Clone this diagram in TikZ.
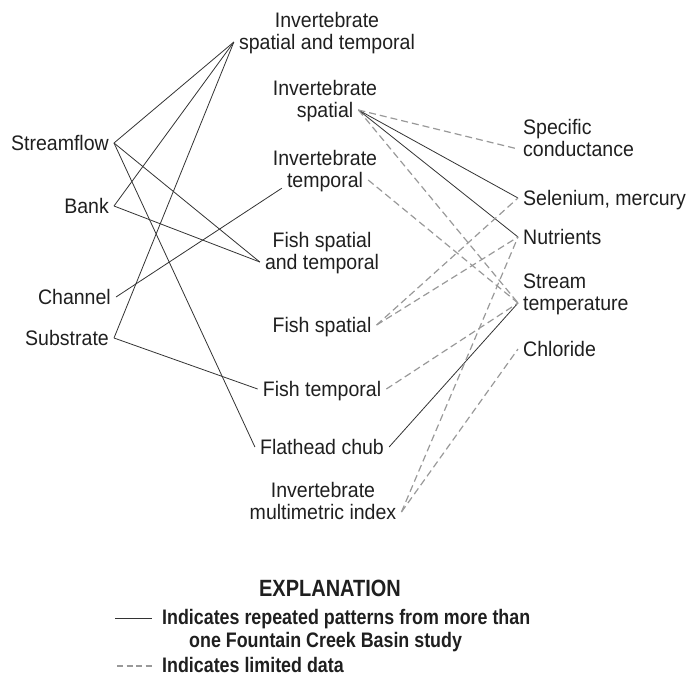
\documentclass[tikz,border=0pt]{standalone}
\usepackage{fontspec}
\setmainfont{Liberation Sans}[FakeStretch=0.93]
\newfontfamily\legfont{Liberation Sans}[FakeStretch=0.85]
\begin{document}
\begin{tikzpicture}[x=1pt,y=-1pt,
  lbl/.style={font=\fontsize{21}{22}\selectfont, text=black!88, inner xsep=5pt, inner ysep=0pt, text height=15pt, text depth=1pt},
  legtxt/.style={font=\legfont\bfseries\fontsize{21}{22}\selectfont, text=black!88, inner sep=0pt, anchor=west, text height=14pt, text depth=1pt},
  solidc/.style={draw=black!80, line width=0.8pt},
  dashc/.style={draw=black!40, line width=1.2pt, dash pattern=on 7pt off 4pt},
]
\useasboundingbox (0,0) rectangle (687,678);

% left column
\node[lbl,anchor=east] (sf) at (114,143) {Streamflow};
\node[lbl,anchor=east] (bk) at (114,206) {Bank};
\node[lbl,anchor=east] (ch) at (116,297) {Channel};
\node[lbl,anchor=east] (su) at (114,338) {Substrate};

% middle column
\node[lbl] (ist1) at (327,20) {Invertebrate};
\node[lbl] (ist) at (327,42) {spatial and temporal};
\node[lbl] (is1) at (325,88) {Invertebrate};
\node[lbl] (is) at (325,110) {spatial};
\node[lbl] (it1) at (325,158) {Invertebrate};
\node[lbl] (it) at (325,180) {temporal};
\node[lbl] (fst1) at (322,240) {Fish spatial};
\node[lbl] (fst) at (322,262) {and temporal};
\node[lbl] (fs) at (322,325) {Fish spatial};
\node[lbl] (ft) at (322,389) {Fish temporal};
\node[lbl] (fc) at (322,447) {Flathead chub};
\node[lbl] (mi1) at (323,490) {Invertebrate};
\node[lbl] (mi) at (323,512) {multimetric index};

% right column
\node[lbl,anchor=west] (sc1) at (518,127) {Specific};
\node[lbl,anchor=west] (sc) at (518,149) {conductance};
\node[lbl,anchor=west] (sm) at (518,198) {Selenium, mercury};
\node[lbl,anchor=west] (nu) at (518,237) {Nutrients};
\node[lbl,anchor=west] (st1) at (518,281) {Stream};
\node[lbl,anchor=west] (st) at (518,303) {temperature};
\node[lbl,anchor=west] (cl) at (518,349) {Chloride};

% solid connectors
\draw[solidc] (sf.east) -- (ist.west);
\draw[solidc] (sf.east) -- (fst.west);
\draw[solidc] (sf.east) -- (fc.west);
\draw[solidc] (bk.east) -- (ist.west);
\draw[solidc] (bk.east) -- (fst.west);
\draw[solidc] (ch.east) -- (it.south west);
\draw[solidc] (su.east) -- (ist.west);
\draw[solidc] (su.east) -- (ft.west);
\draw[solidc] (is.east) -- (sm.west);
\draw[solidc] (is.east) -- (nu.west);
\draw[solidc] (fc.east) -- (st.west);

% dashed connectors
\draw[dashc] (is.east) -- (sc.west);
\draw[dashc] (is.east) -- (st.west);
\draw[dashc] (it.east) -- (st.west);
\draw[dashc] (fs.east) -- (sm.west);
\draw[dashc] (fs.east) -- (nu.west);
\draw[dashc] (ft.east) -- (st.west);
\draw[dashc] (mi.east) -- (nu.west);
\draw[dashc] (mi.east) -- (cl.west);

% explanation
\node[font=\legfont\bfseries\fontsize{23.5}{24}\selectfont, text=black!88, inner sep=0pt] (expl) at (330,588) {EXPLANATION};
\node[legtxt] (leg1) at (162,618) {Indicates repeated patterns from more than};
\node[legtxt] (leg2) at (189,641) {one Fountain Creek Basin study};
\node[legtxt] (leg3) at (162,666) {Indicates limited data};
\coordinate (ls1) at (115,618);
\coordinate (ls3) at (117,666);
\draw[solidc] (ls1) -- ([xshift=-10pt]leg1.west);
\draw[dashc, dash pattern=on 6pt off 3.5pt] (ls3) -- ([xshift=-10pt]leg3.west);
\end{tikzpicture}
\end{document}
